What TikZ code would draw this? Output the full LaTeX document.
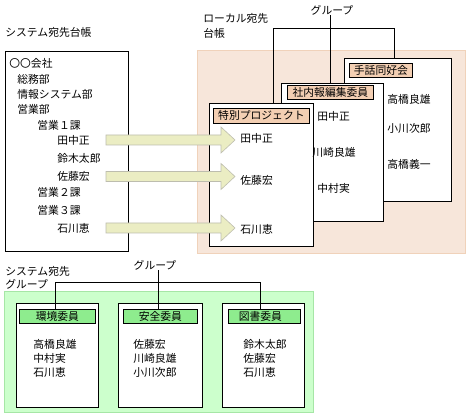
\documentclass[tikz,border=0pt]{standalone}
\usepackage{fontspec}
\setmainfont{Noto Sans CJK JP}
\usetikzlibrary{positioning}
\definecolor{peachbg}{HTML}{F7E6DA}
\definecolor{peachline}{HTML}{F0D2BA}
\definecolor{peachhead}{HTML}{F3CFB3}
\definecolor{greenbg}{HTML}{CCFFCC}
\definecolor{greenline}{HTML}{A6E6A6}
\definecolor{greenhead}{HTML}{8EEC8E}
\definecolor{arrowfill}{HTML}{EBEDC3}
\definecolor{arrowline}{HTML}{BDBDAE}
\tikzset{
  lbl/.style={anchor=west, inner sep=0pt, font=\fontsize{10.8}{12}\selectfont},
  card/.style={draw, fill=white, anchor=north west, inner sep=0pt},
  pinkhead/.style={draw, fill=peachhead, anchor=north west, inner sep=0pt},
  greenhd/.style={draw, fill=greenhead, anchor=north west, inner sep=0pt},
  headtext/.style={inner sep=0pt, font=\fontsize{10.8}{12}\selectfont}
}
\begin{document}
\begin{tikzpicture}[x=1pt, y=-1pt, line width=0.8pt]
\useasboundingbox (0,0) rectangle (467,417);
% system address book
\node[lbl] (systitle) at (5,32) {システム宛先台帳};
\node[card, minimum width=123pt, minimum height=200pt] (sysbook) at (5,51) {};
\node[lbl] (kaisha) at (9,63) {〇〇会社};
\node[lbl] (somu) at (17,79) {総務部};
\node[lbl] (joho) at (17,94) {情報システム部};
\node[lbl] (eigyo) at (17,109) {営業部};
\node[lbl] (ka1) at (37,125) {営業１課};
\node[lbl] (tanaka) at (57,140) {田中正};
\node[lbl] (suzuki) at (57,158) {鈴木太郎};
\node[lbl] (sato) at (57,176) {佐藤宏};
\node[lbl] (ka2) at (37,192) {営業２課};
\node[lbl] (ka3) at (37,210) {営業３課};
\node[lbl] (ishikawa) at (57,228) {石川恵};

% local address book
\node[lbl] (loctitle) at (203,18) {ローカル宛先};
\node[lbl] (loctitleb) at (203,33) {台帳};
\draw[peachline, fill=peachbg] (197,50) rectangle (465,253);
\node[card, minimum width=107pt, minimum height=143pt] (shuwa) at (344,58) {};
\node[card, minimum width=102pt, minimum height=138pt] (shanai) at (281,83) {};
\node[card, minimum width=104pt, minimum height=143pt] (tokubetsu) at (209,103) {};
\node[pinkhead, minimum width=63pt, minimum height=14pt] (shuwahd) at (349,63) {};
\node[headtext] at (shuwahd.center) {手話同好会};
\node[pinkhead, minimum width=86pt, minimum height=14pt] (shanaihd) at (287,85) {};
\node[headtext] at (shanaihd.center) {社内報編集委員};
\node[pinkhead, minimum width=96pt, minimum height=15pt] (tokubetsuhd) at (213,108) {};
\node[headtext] at (tokubetsuhd.center) {特別プロジェクト};
\node[lbl] (sh1) at (387,99) {高橋良雄};
\node[lbl] (sh2) at (387,128) {小川次郎};
\node[lbl] (sh3) at (387,164) {高橋義一};
\node[lbl] (sn1) at (317,116) {田中正};
\node[lbl] (sn2) at (312,152) {川崎良雄};
\node[lbl] (sn3) at (317,188) {中村実};
\node[lbl] (tk1) at (240,138) {田中正};
\node[lbl] (tk2) at (240,180) {佐藤宏};
\node[lbl] (tk3) at (240,229) {石川恵};

% group bracket (local)
\node[headtext] (locgrp) at (332,10) {グループ};
\coordinate (lb) at (273,28);
\coordinate (rb) at (394,28);
\draw (locgrp.south -| 330,0) -- (330,0 |- shanai.north);
\draw (lb |- tokubetsu.north) -- (lb) -- (rb) -- (rb |- shuwa.north);

% copy arrows
\foreach \yy in {140,176.5,228}
  \draw[arrowline, fill=arrowfill, line width=0.6pt]
    (106,\yy-5) -- (221,\yy-5) -- (221,\yy-13) -- (235,\yy) -- (221,\yy+13)
    -- (221,\yy+5) -- (106,\yy+5) -- cycle;

% system address groups
\node[lbl] (grptitle) at (5,271) {システム宛先};
\node[lbl] (grptitleb) at (5,284) {グループ};
\draw[greenline, fill=greenbg] (4,291) rectangle (313,412);
\node[card, minimum width=82pt, minimum height=104pt] (kankyo) at (16,303) {};
\node[card, minimum width=84pt, minimum height=104pt] (anzen) at (118,303) {};
\node[card, minimum width=82pt, minimum height=104pt] (tosho) at (222,303) {};
\node[greenhd, minimum width=76pt, minimum height=14pt] (kankyohd) at (19,309) {};
\node[headtext] at (kankyohd.center) {環境委員};
\node[greenhd, minimum width=74pt, minimum height=14pt] (anzenhd) at (123,309) {};
\node[headtext] at (anzenhd.center) {安全委員};
\node[greenhd, minimum width=72pt, minimum height=14pt] (toshohd) at (228,309) {};
\node[headtext] at ([xshift=-4pt]toshohd.center) {図書委員};
\node[lbl] (kk1) at (33,344) {高橋良雄};
\node[lbl] (kk2) at (33,358) {中村実};
\node[lbl] (kk3) at (33,372) {石川恵};
\node[lbl] (az1) at (133,344) {佐藤宏};
\node[lbl] (az2) at (133,358) {川崎良雄};
\node[lbl] (az3) at (133,372) {小川次郎};
\node[lbl] (ts1) at (243,344) {鈴木太郎};
\node[lbl] (ts2) at (243,358) {佐藤宏};
\node[lbl] (ts3) at (243,372) {石川恵};

% group bracket (system)
\node[headtext] (sysgrp) at (155,265) {グループ};
\coordinate (glb) at (55,282);
\coordinate (grb) at (260,282);
\draw (sysgrp.south -| 158,0) -- (158,0 |- anzenhd.north);
\draw (glb |- kankyohd.north) -- (glb) -- (grb) -- (grb |- toshohd.north);
\end{tikzpicture}
\end{document}
